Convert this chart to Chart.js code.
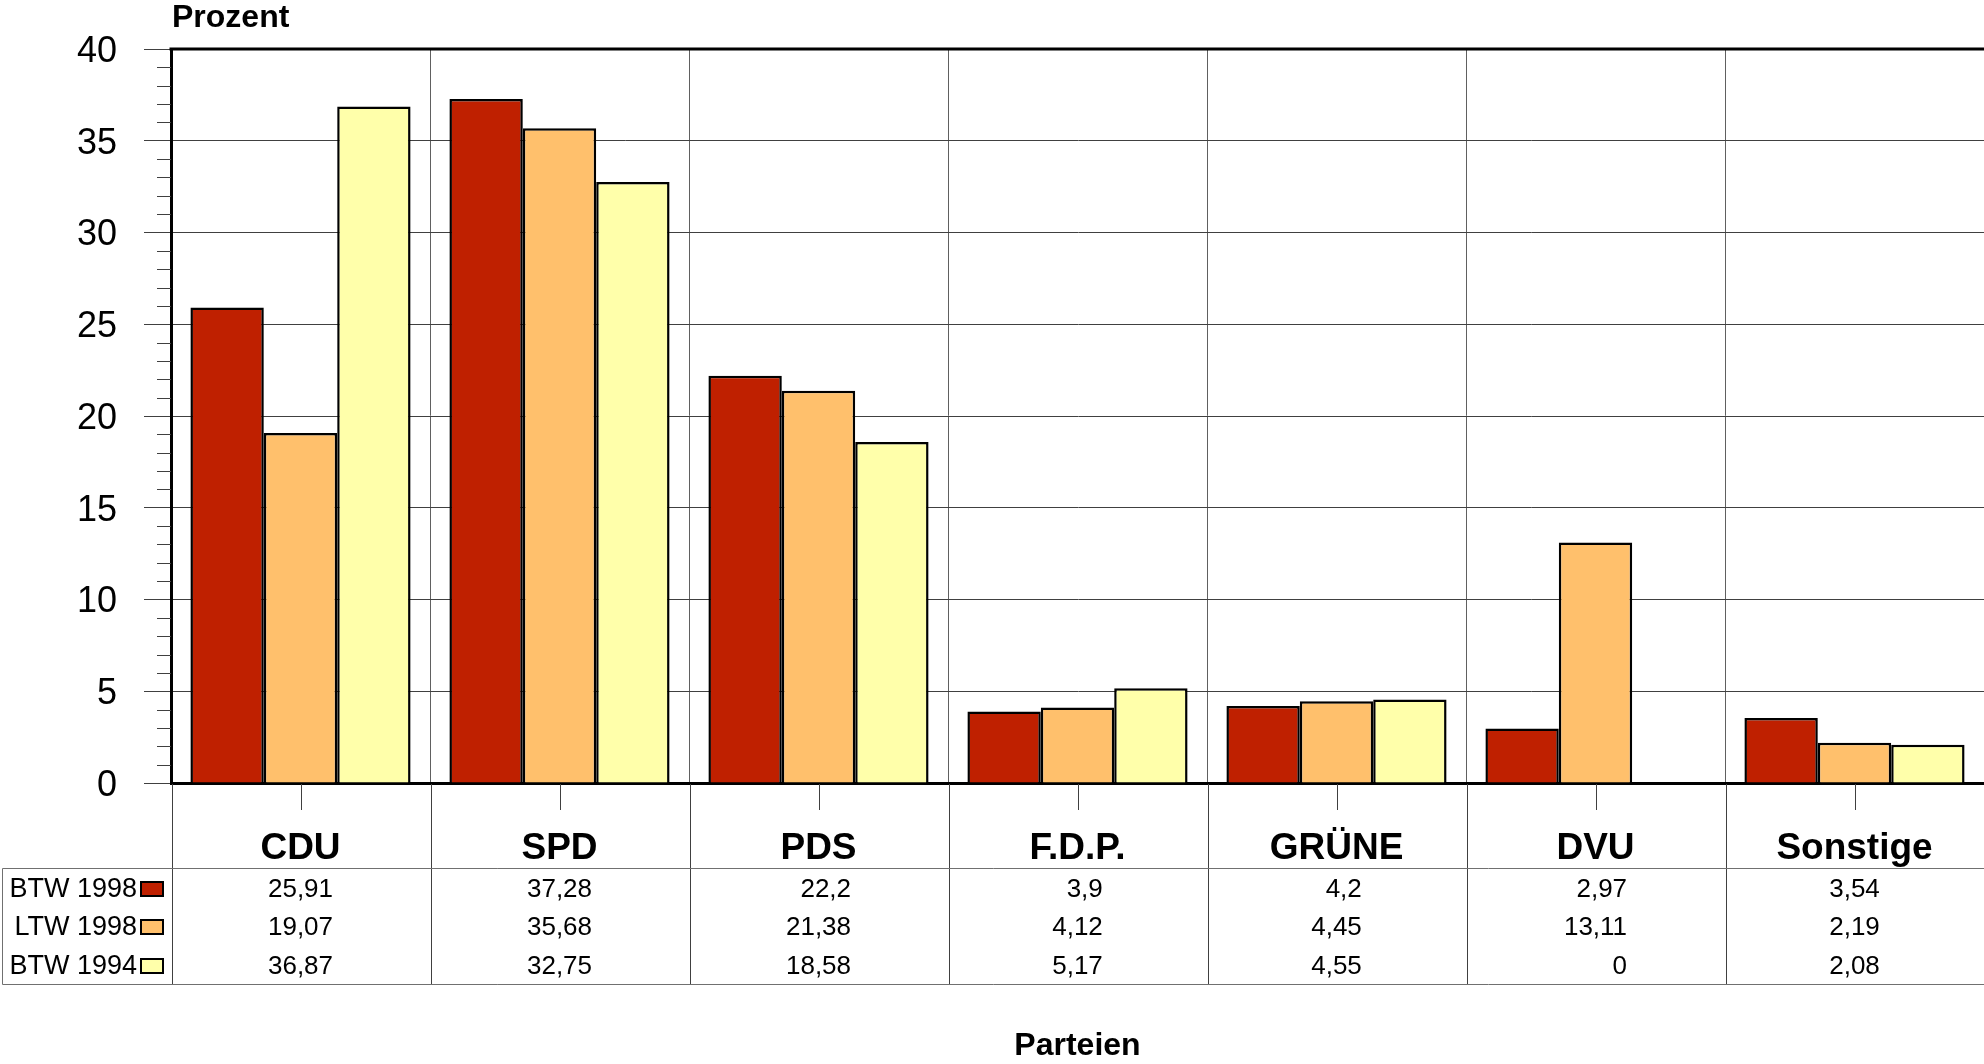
<!DOCTYPE html>
<html>
<head>
<meta charset="utf-8">
<script src="https://cdn.jsdelivr.net/npm/chart.js@4.4.1/dist/chart.umd.min.js"></script>
<style>
html,body{margin:0;padding:0;background:#fff;}
#wrap{width:1984px;height:1064px;}
</style>
</head>
<body>
<div id="wrap"><canvas id="c" width="1984" height="1064"></canvas></div>
<script>
const categories = ['CDU', 'SPD', 'PDS', 'F.D.P.', 'GRÜNE', 'DVU', 'Sonstige'];
const seriesNames = ['BTW 1998', 'LTW 1998', 'BTW 1994'];
const btw1998 = [25.91, 37.28, 22.2, 3.9, 4.2, 2.97, 3.54];
const ltw1998 = [19.07, 35.68, 21.38, 4.12, 4.45, 13.11, 2.19];
const btw1994 = [36.87, 32.75, 18.58, 5.17, 4.55, 0, 2.08];
const yTicks = [0, 5, 10, 15, 20, 25, 30, 35, 40];
const yTitle = 'Prozent';
const xTitle = 'Parteien';

const colors = ['#BF2000', '#FFC06C', '#FFFFAA'];
const FONT = '"Liberation Sans", Arial, sans-serif';
const seriesData = [btw1998, ltw1998, btw1994];

const fmt = v => String(v).replace('.', ',');

const extras = {
  id: 'extras',
  afterDraw(chart) {
    const ctx = chart.ctx;
    const area = chart.chartArea;
    const xs = chart.scales.x;
    const ys = chart.scales.y;
    ctx.save();
    // top border
    ctx.strokeStyle = '#000';
    ctx.lineWidth = 3;
    ctx.beginPath();
    ctx.moveTo(area.left - 1.5, area.top);
    ctx.lineTo(area.right, area.top);
    ctx.stroke();
    // minor y ticks
    ctx.strokeStyle = '#404040';
    ctx.lineWidth = 1;
    for (let v = ys.min + 1; v < ys.max; v++) {
      if (v % 5 === 0) continue;
      const y = Math.round(ys.getPixelForValue(v)) + 0.5;
      ctx.beginPath();
      ctx.moveTo(area.left - 14, y);
      ctx.lineTo(area.left, y);
      ctx.stroke();
    }
    // category ticks and extended separators
    const step = (area.right - area.left) / categories.length;
    const tableTop = 868, tableBottom = 984;
    ctx.strokeStyle = '#404040';
    for (let i = 0; i < categories.length; i++) {
      const cx = Math.round(xs.getPixelForValue(i)) + 0.5;
      ctx.beginPath();
      ctx.moveTo(cx, area.bottom + 1);
      ctx.lineTo(cx, area.bottom + 27);
      ctx.stroke();
      const bx = Math.round(cx - step / 2) + 0.5;
      ctx.beginPath();
      ctx.moveTo(bx, area.bottom + 1);
      ctx.lineTo(bx, tableBottom);
      ctx.stroke();
    }
    // table horizontal lines & left border
    ctx.strokeStyle = '#707070';
    ctx.beginPath();
    ctx.moveTo(2.5, tableTop + 0.5);
    ctx.lineTo(area.right, tableTop + 0.5);
    ctx.moveTo(2.5, tableBottom + 0.5);
    ctx.lineTo(area.right, tableBottom + 0.5);
    ctx.moveTo(2.5, tableTop + 0.5);
    ctx.lineTo(2.5, tableBottom + 0.5);
    ctx.stroke();
    // table rows
    const rowY = [889, 927, 966];
    ctx.textBaseline = 'middle';
    for (let r = 0; r < seriesNames.length; r++) {
      ctx.font = '27px ' + FONT;
      ctx.textAlign = 'right';
      ctx.fillStyle = '#000';
      ctx.fillText(seriesNames[r], 137, rowY[r] + 1);
      ctx.fillStyle = colors[r];
      ctx.fillRect(140, rowY[r] - 8, 24, 16);
      ctx.strokeStyle = '#000';
      ctx.lineWidth = 2;
      ctx.strokeRect(141, rowY[r] - 7, 22, 14);
    }
    ctx.font = '26px ' + FONT;
    ctx.fillStyle = '#000';
    ctx.textAlign = 'right';
    for (let i = 0; i < categories.length; i++) {
      const cx = xs.getPixelForValue(i);
      let maxW = 0;
      for (let r = 0; r < seriesData.length; r++) {
        maxW = Math.max(maxW, ctx.measureText(fmt(seriesData[r][i])).width);
      }
      for (let r = 0; r < seriesData.length; r++) {
        ctx.fillText(fmt(seriesData[r][i]), cx + maxW / 2, rowY[r] + 1);
      }
    }
    // titles
    ctx.font = 'bold 32px ' + FONT;
    ctx.textAlign = 'left';
    ctx.textBaseline = 'middle';
    ctx.fillText(yTitle, 172, 18);
    ctx.textAlign = 'center';
    ctx.fillText(xTitle, (area.left + area.right) / 2, 1046);
    ctx.restore();
  }
};

new Chart(document.getElementById('c'), {
  type: 'bar',
  data: {
    labels: categories,
    datasets: seriesNames.map((name, i) => ({
      label: name,
      data: seriesData[i],
      backgroundColor: colors[i],
      borderColor: '#000',
      borderWidth: 2.5,
      categoryPercentage: 0.85,
      barPercentage: 1.0
    }))
  },
  options: {
    responsive: false,
    devicePixelRatio: 1,
    animation: false,
    layout: { padding: { top: 49, left: 0, right: 0, bottom: 0 } },
    plugins: {
      legend: { display: false },
      tooltip: { enabled: false }
    },
    scales: {
      x: {
        afterFit(s) { s.height = 1064 - 783; },
        grid: { display: true, offset: true, color: '#606060', lineWidth: 1, drawTicks: false },
        border: { display: true, color: '#000', width: 3 },
        ticks: {
          padding: 44,
          color: '#000',
          font: { family: FONT, size: 37, weight: 'bold' },
          maxRotation: 0,
          autoSkip: false
        }
      },
      y: {
        min: 0,
        max: 40,
        afterFit(s) { s.width = 171; },
        afterBuildTicks(s) { s.ticks = yTicks.map(v => ({ value: v })); },
        grid: { color: '#404040', lineWidth: 1, drawTicks: true, tickLength: 27 },
        border: { display: true, color: '#000', width: 3 },
        ticks: {
          padding: 27,
          labelOffset: 3,
          color: '#000',
          font: { family: FONT, size: 36 }
        }
      }
    }
  },
  plugins: [extras]
});
</script>
</body>
</html>
